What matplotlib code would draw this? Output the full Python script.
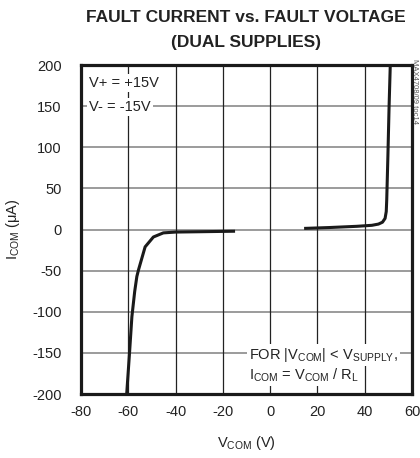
import matplotlib
matplotlib.use('Agg')
import matplotlib.pyplot as plt

# fault current vs fault voltage
neg_v = [-60.7, -59.5, -58.5, -57.3, -56.4, -55.7, -52.9, -49.4, -45.2, -40.0, -30.0, -15.5]
neg_i = [-200, -150, -106, -75, -57, -49, -21, -9, -4, -3, -2.6, -2]
pos_v = [15.0, 25.0, 36.7, 43.0, 45.8, 47.5, 48.6, 49.1, 49.3, 49.8, 50.3, 50.8]
pos_i = [1.5, 2.5, 4.0, 5.2, 6.7, 9.0, 13.6, 22, 36, 90, 150, 200]

xticks = [-80, -60, -40, -20, 0, 20, 40, 60]
yticks = [-200, -150, -100, -50, 0, 50, 100, 150, 200]

font = ['Liberation Sans Narrow', 'Liberation Sans', 'DejaVu Sans']
plt.rcParams['font.family'] = font
plt.rcParams['axes.unicode_minus'] = False
plt.rcParams['mathtext.fontset'] = 'custom'
plt.rcParams['mathtext.rm'] = 'Liberation Sans'
plt.rcParams['mathtext.it'] = 'Liberation Sans'

fs = 10.5
fig = plt.figure(figsize=(4.2, 4.58), dpi=100)
ax = fig.add_axes([0.193, 0.1397, 0.788, 0.718])

for y in yticks[1:-1]:
    ax.axhline(y, color='#8a8a8a', lw=1.2, zorder=1)
for x in xticks[1:-1]:
    ax.axvline(x, color='#222222', lw=0.9, zorder=1)

ax.plot(neg_v, neg_i, color='#1a1a1a', lw=2.2, zorder=3)
ax.plot(pos_v, pos_i, color='#1a1a1a', lw=2.2, zorder=3)

ax.set_xlim(-80, 60)
ax.set_ylim(-200, 200)
ax.set_xticks(xticks)
ax.set_yticks(yticks)
ax.tick_params(axis='x', length=0, labelsize=fs, pad=8, colors='#222222')
ax.tick_params(axis='y', length=0, labelsize=fs, pad=14, colors='#222222')
for s in ax.spines.values():
    s.set_linewidth(2.3)
    s.set_color('#1a1a1a')

ax.set_xlabel(r'V$_{\mathregular{COM}}$ (V)', fontsize=fs, color='#222222', labelpad=11)
ax.set_ylabel(r'I$_{\mathregular{COM}}$ ($\mathregular{\mu}$A)', fontsize=fs, color='#222222', labelpad=7)

box = dict(facecolor='white', edgecolor='none', pad=1.5)
ax.text(-76.5, 178, 'V+ = +15V', fontsize=fs, va='center', ha='left', color='#222222', bbox=box, zorder=4)
ax.text(-76.5, 149, 'V- = -15V', fontsize=fs, va='center', ha='left', color='#222222', bbox=box, zorder=4)
ax.text(-8.8, -152, r'FOR |V$_{\mathregular{COM}}$| < V$_{\mathregular{SUPPLY}}$,', fontsize=fs,
        va='center', ha='left', color='#222222', bbox=box, zorder=4)
ax.text(-8.8, -177, r'I$_{\mathregular{COM}}$ = V$_{\mathregular{COM}}$ / R$_{\mathregular{L}}$', fontsize=fs,
        va='center', ha='left', color='#222222', bbox=box, zorder=4)

fig.text(0.585, 0.962, 'FAULT CURRENT vs. FAULT VOLTAGE', fontsize=12.5, fontweight='bold',
         ha='center', va='center', color='#222222')
fig.text(0.585, 0.907, '(DUAL SUPPLIES)', fontsize=12.5, fontweight='bold',
         ha='center', va='center', color='#222222')
fig.text(0.988, 0.80, 'MAX4708/09 toc14', fontsize=5.5, rotation=270, ha='center', va='center', color='#555555')

fig.savefig('out.png', dpi=100)
